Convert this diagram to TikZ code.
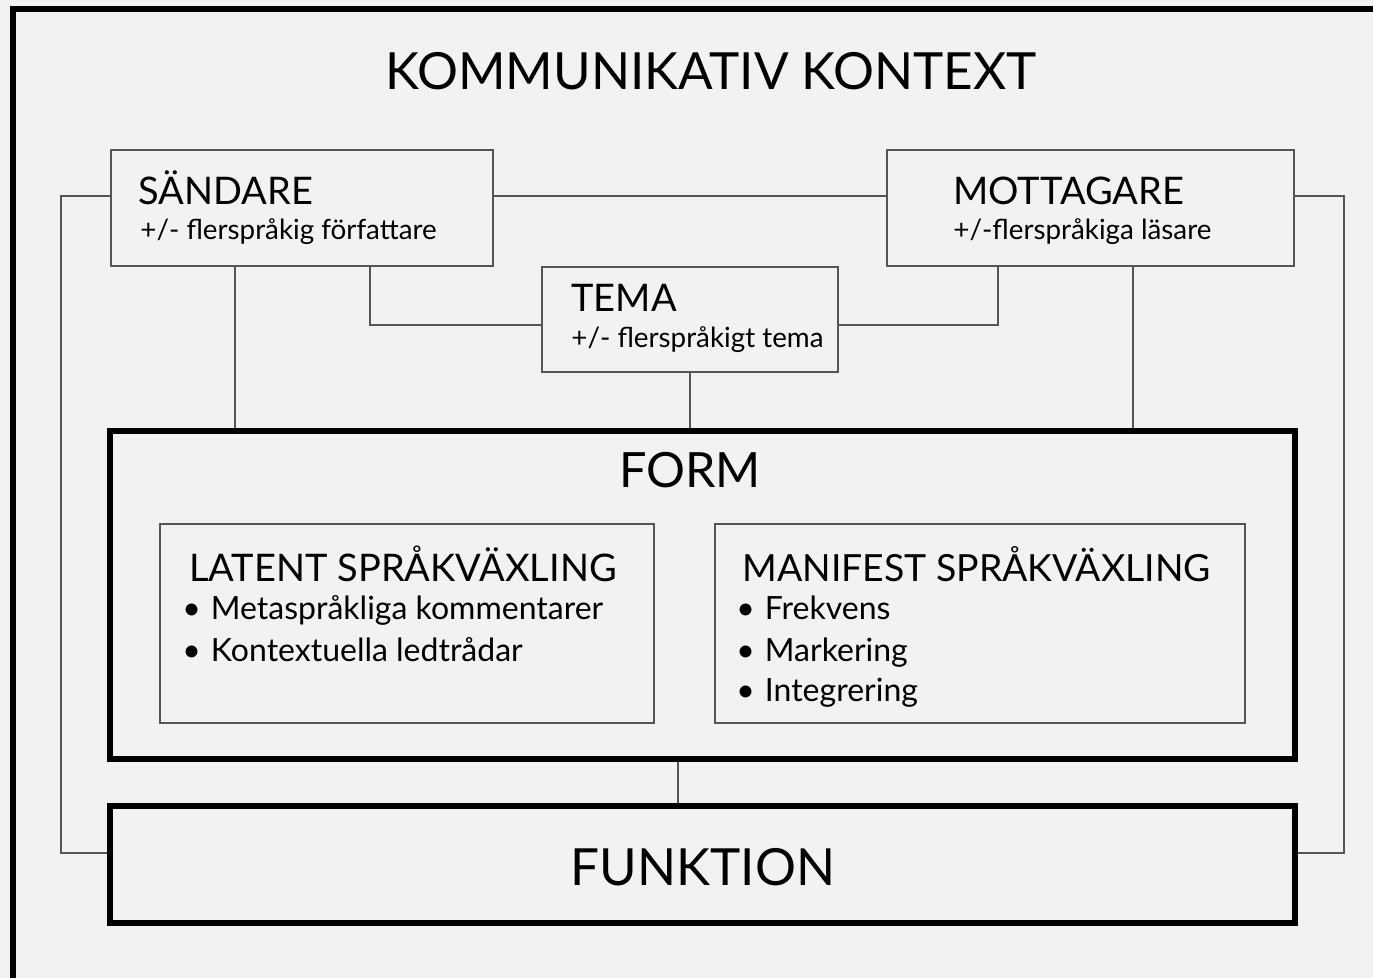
\documentclass[tikz,border=0pt]{standalone}
\usepackage{fontspec}
\setmainfont{Lato}
\begin{document}
\begin{tikzpicture}[x=0.5pt,y=-0.5pt,
  thinbox/.style={draw=linegray, line width=1pt, inner sep=0pt},
  thickbox/.style={draw=black, line width=2.75pt, inner sep=0pt},
  conn/.style={draw=linegray, line width=1pt},
  bigtxt/.style={inner sep=0pt, font=\fontsize{25.6}{30}\selectfont},
  headtxt/.style={inner sep=0pt, anchor=base west, font=\fontsize{19}{22}\selectfont},
  subtxt/.style={inner sep=0pt, anchor=base west, font=\fontsize{13.9}{16}\selectfont},
  bultxt/.style={inner sep=0pt, anchor=base west, font=\fontsize{16}{19}\selectfont}]
\definecolor{linegray}{HTML}{555555}
\definecolor{bggray}{HTML}{F2F2F2}
\useasboundingbox (0,0) rectangle (1373,978);
\fill[bggray] (0,0) rectangle (1373,978);
% outer frame
\draw[line width=3pt, line join=miter] (13,990) -- (13,9) -- (1390,9);
\node[bigtxt, anchor=base] (title) at (711,90) {KOMMUNIKATIV KONTEXT};
% boxes
\node[thinbox, minimum width=191pt, minimum height=58pt] (snd) at (302,208) {};
\node[thinbox, minimum width=203.5pt, minimum height=58pt] (mot) at (1090.5,208) {};
\node[thinbox, minimum width=148pt, minimum height=52.5pt] (tema) at (690,319.5) {};
\node[thickbox, minimum width=592.5pt, minimum height=164pt] (form) at (702.5,595) {};
\node[thinbox, minimum width=247pt, minimum height=99.5pt] (lat) at (407,623.5) {};
\node[thinbox, minimum width=265pt, minimum height=99.5pt] (man) at (980,623.5) {};
\node[thickbox, minimum width=592.5pt, minimum height=58.5pt] (fun) at (702.5,864.5) {};
% texts
\node[headtxt] (sndh) at (138,205) {SÄNDARE};
\node[subtxt] (snds) at (140,240) {+/- flerspråkig författare};
\node[headtxt] (moth) at (953,205) {MOTTAGARE};
\node[subtxt] (mots) at (953,240) {+/-flerspråkiga läsare};
\node[headtxt] (temah) at (571,312) {TEMA};
\node[subtxt] (temas) at (571,348) {+/- flerspråkigt tema};
\node[inner sep=0pt, anchor=base, font=\fontsize{24.3}{28}\selectfont] (formh) at (690,488) {FORM};
\node[headtxt] (lath) at (189,582) {LATENT SPRÅKVÄXLING};
\node[bultxt] (latb1) at (182,620) {•\hspace{5pt}Metaspråkliga kommentarer};
\node[bultxt] (latb2) at (182,662) {•\hspace{5pt}Kontextuella ledtrådar};
\node[headtxt, font=\fontsize{18.7}{22}\selectfont] (manh) at (742,582) {MANIFEST SPRÅKVÄXLING};
\node[bultxt] (manb1) at (736,620) {•\hspace{5pt}Frekvens};
\node[bultxt] (manb2) at (736,662) {•\hspace{5pt}Markering};
\node[bultxt] (manb3) at (736,702) {•\hspace{5pt}Integrering};
\node[bigtxt, anchor=base] (funh) at (703,886) {FUNKTION};
% helper coordinates
\coordinate (xa) at (235,0);
\coordinate (xb) at (370,0);
\coordinate (xc) at (998,0);
\coordinate (xd) at (1133,0);
\coordinate (xe) at (678,0);
% connectors
\draw[conn] ([yshift=6pt]snd.east) -- ([yshift=6pt]mot.west);
\draw[conn] ([yshift=6pt]snd.west) -- ++(-24.5pt,0) |- ([yshift=5.75pt]fun.west);
\draw[conn] ([yshift=6pt]mot.east) -- ++(24.5pt,0) |- ([yshift=5.75pt]fun.east);
\draw[conn] (snd.south -| xa) -- (form.north -| xa);
\draw[conn] (snd.south -| xb) |- ([yshift=-2.75pt]tema.west);
\draw[conn] (mot.south -| xc) |- ([yshift=-2.75pt]tema.east);
\draw[conn] (mot.south -| xd) -- (form.north -| xd);
\draw[conn] (tema.south) -- (form.north -| tema.south);
\draw[conn] (form.south -| xe) -- (fun.north -| xe);
\end{tikzpicture}
\end{document}
